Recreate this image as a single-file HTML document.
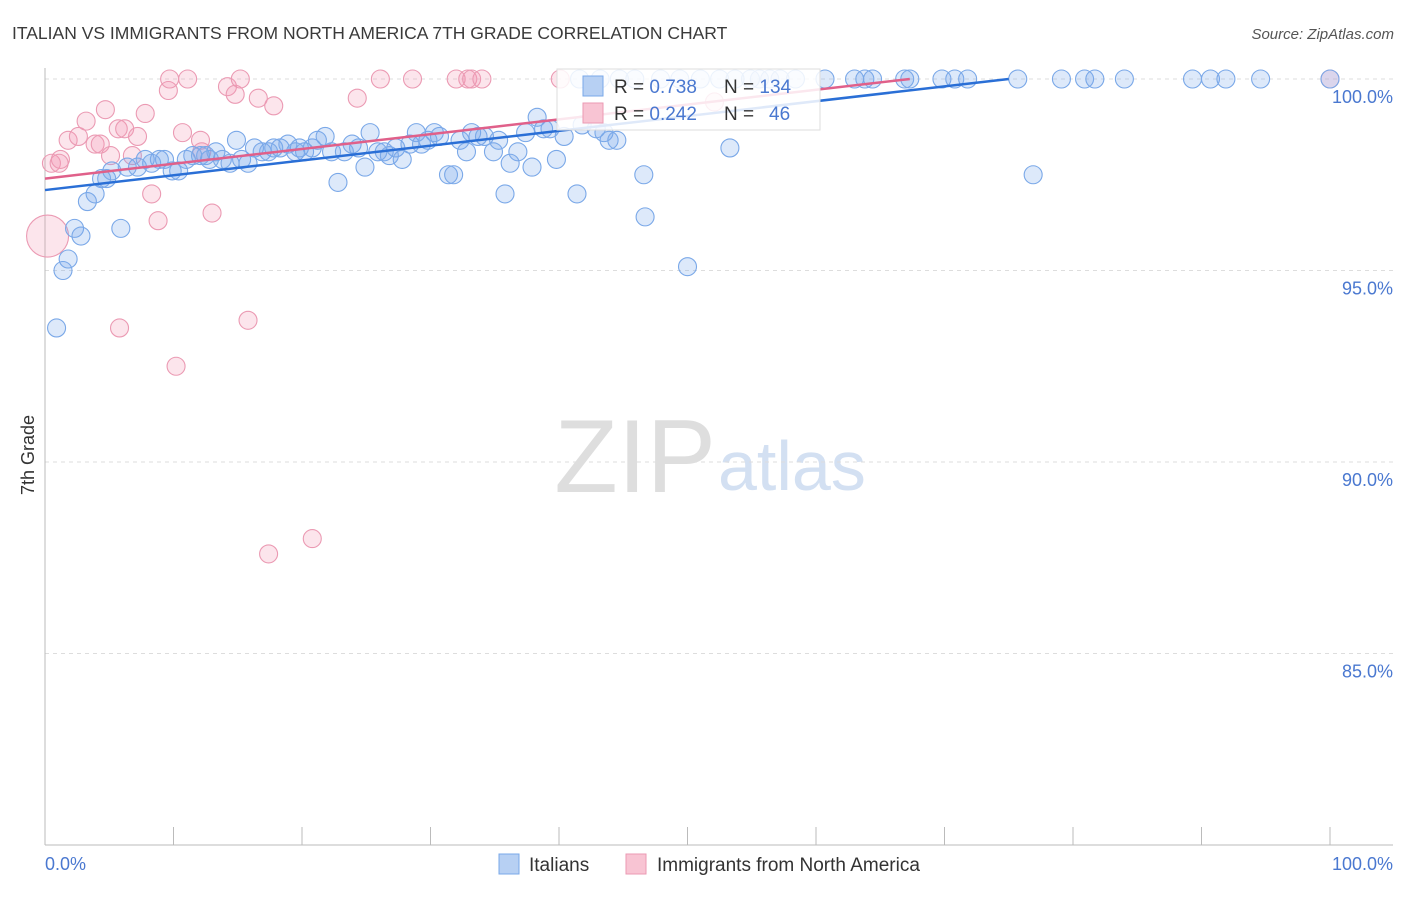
<!DOCTYPE html>
<html><head><meta charset="utf-8">
<style>
body{margin:0;background:#fff;font-family:"Liberation Sans",sans-serif;}
svg text{font-family:"Liberation Sans",sans-serif;}
</style></head>
<body>
<svg id="chart" width="1406" height="892" xmlns="http://www.w3.org/2000/svg">
<text x="12" y="39" font-size="17.5" fill="#3a3a3a">ITALIAN VS IMMIGRANTS FROM NORTH AMERICA 7TH GRADE CORRELATION CHART</text>
<text x="1394" y="39" font-size="15" fill="#555" text-anchor="end" font-style="italic">Source: ZipAtlas.com</text>
<text x="716" y="492" font-size="104" fill="#dedede" text-anchor="end" font-family="Liberation Serif">ZIP</text>
<text x="718" y="490" font-size="70" fill="#d3e0f2">atlas</text>
<g id="grid"></g>
<g id="pinkpts"></g>
<g id="bluepts"></g>
<g id="lines"></g>
<text transform="translate(34,455) rotate(-90)" font-size="18" fill="#333" text-anchor="middle">7th Grade</text>
<text x="45" y="870" font-size="18" fill="#4a78d0">0.0%</text>
<text x="1393" y="870" font-size="18" fill="#4a78d0" text-anchor="end">100.0%</text>
<g>
<rect x="557" y="69" width="263" height="61" fill="#fff" fill-opacity="0.85" stroke="#ddd"/>
<rect x="583" y="76" width="20" height="20" fill="#b7d0f3" stroke="#7aa8e8"/>
<rect x="583" y="103" width="20" height="20" fill="#f8c4d3" stroke="#eb9ab3"/>
<text x="614" y="93" font-size="19" fill="#333">R = <tspan fill="#4a78d0">0.738</tspan></text>
<text x="724" y="93" font-size="19" fill="#333">N = <tspan fill="#4a78d0">134</tspan></text>
<text x="614" y="120" font-size="19" fill="#333">R = <tspan fill="#4a78d0">0.242</tspan></text>
<text x="724" y="120" font-size="19" fill="#333">N = <tspan fill="#4a78d0" x="769">46</tspan></text>
</g>
<g>
<rect x="499" y="854" width="20" height="20" fill="#b7d0f3" stroke="#7aa8e8"/>
<text x="529" y="871" font-size="19" fill="#333">Italians</text>
<rect x="626" y="854" width="20" height="20" fill="#f8c4d3" stroke="#eb9ab3"/>
<text x="657" y="871" font-size="19" fill="#333">Immigrants from North America</text>
</g>
</svg>
<script>
const yTicks=[100,95,90,85];
const yTickLabels=["100.0%","95.0%","90.0%","85.0%"];
const xTicks=[0,10,20,30,40,50,60,70,80,90,100];
const blueX=[0.9,1.4,1.8,2.3,2.8,3.3,3.9,4.4,4.8,5.2,5.9,6.4,7.2,7.8,8.3,8.9,9.3,9.9,10.4,11.0,11.5,12.1,12.5,12.8,13.3,13.8,14.4,14.9,15.3,15.8,16.3,16.9,17.4,17.8,18.3,18.9,19.5,19.8,20.2,20.8,21.2,21.8,22.3,22.8,23.3,23.9,24.4,24.9,25.3,25.9,26.4,26.8,27.3,27.8,28.4,28.9,29.3,29.8,30.3,30.7,31.4,31.8,32.3,32.8,33.2,33.7,34.2,34.9,35.3,35.8,36.2,36.8,37.4,37.9,38.3,38.8,39.3,39.8,40.4,41.4,41.8,42.9,43.5,43.9,44.5,46.6,46.7,50.0,53.3,76.9,45.9,47.9,51.0,53.7,55.6,56.4,58.4,60.7,63.0,63.8,64.4,66.9,67.3,69.8,70.8,71.8,75.7,79.1,80.9,81.7,84.0,89.3,90.7,91.9,94.6,100,41.6,43.2,44.7,49.4,52.5,54.9,57.2];
const blueY=[93.5,95.0,95.3,96.1,95.9,96.8,97.0,97.4,97.4,97.6,96.1,97.7,97.7,97.9,97.8,97.9,97.9,97.6,97.6,97.9,98.0,98.0,98.0,97.9,98.1,97.9,97.8,98.4,97.9,97.8,98.2,98.1,98.1,98.2,98.2,98.3,98.1,98.2,98.1,98.2,98.4,98.5,98.1,97.3,98.1,98.3,98.2,97.7,98.6,98.1,98.1,98.0,98.2,97.9,98.3,98.6,98.3,98.4,98.6,98.5,97.5,97.5,98.4,98.1,98.6,98.5,98.5,98.1,98.4,97.0,97.8,98.1,98.6,97.7,99.0,98.7,98.7,97.9,98.5,97.0,98.8,98.7,98.6,98.4,98.4,97.5,96.4,95.1,98.2,97.5,100,100,100,100,100,100,100,100,100,100,100,100,100,100,100,100,100,100,100,100,100,100,100,100,100,100,100,100,100,100,100,100,100];
const pinkX=[0.5,1.2,1.8,2.6,3.2,3.9,4.3,4.7,5.1,5.7,5.8,6.2,6.8,7.2,7.8,8.3,8.8,9.6,9.7,10.2,10.7,11.1,12.1,12.2,13.0,14.2,14.8,15.2,15.8,16.6,17.4,17.8,20.8,24.3,26.1,28.6,32.0,32.9,33.2,34.0,40.1,52.1,100,1.1];
const pinkY=[97.8,97.9,98.4,98.5,98.9,98.3,98.3,99.2,98.0,98.7,93.5,98.7,98.0,98.5,99.1,97.0,96.3,99.7,100,92.5,98.6,100,98.4,98.1,96.5,99.8,99.6,100,93.7,99.5,87.6,99.3,88.0,99.5,100,100,100,100,100,100,100,99.4,100,97.8];
const bigPinkX=[0.2], bigPinkY=[95.9];
const blueTrendX=[0,75], blueTrendY=[97.1,100];
const pinkTrendX=[0,67.3], pinkTrendY=[97.4,100];

const NS="http://www.w3.org/2000/svg";
const xs=v=>45+v*12.85;
const ys=v=>79+(100-v)*38.3;
function mk(tag,attrs,parent){const e=document.createElementNS(NS,tag);for(const k in attrs)e.setAttribute(k,attrs[k]);parent.appendChild(e);return e;}
const grid=document.getElementById('grid');
yTicks.forEach((t,i)=>{
  const l=mk('line',{x1:45,x2:1393,y1:ys(t),y2:ys(t),stroke:'#ddd','stroke-dasharray':'4,4'},grid);
  
  
  const tx=mk('text',{x:1393,y:ys(t)+24,'font-size':18,fill:'#4a78d0','text-anchor':'end'},grid);
  tx.textContent=yTickLabels[i];
  
  
});
const ax=mk('line',{x1:45,x2:1393,y1:845,y2:845,stroke:'#bbb'},grid);


const ay=mk('line',{x1:45,x2:45,y1:68,y2:845,stroke:'#bbb'},grid);


xTicks.forEach(t=>{
  const l=mk('line',{x1:xs(t),x2:xs(t),y1:827,y2:845,stroke:'#bbb'},grid);
  
  
});
const pg=document.getElementById('pinkpts');
pinkX.forEach((x,i)=>{
  const c=mk('circle',{cx:xs(x),cy:ys(pinkY[i]),r:9,fill:'rgba(242,150,178,0.25)',stroke:'#eb9ab3','stroke-width':1.1},pg);
  
  
});
bigPinkX.forEach((x,i)=>{
  const c=mk('circle',{cx:xs(x),cy:ys(bigPinkY[i]),r:21,fill:'rgba(242,150,178,0.25)',stroke:'#eb9ab3','stroke-width':1.1},pg);
  
  
});
const bg=document.getElementById('bluepts');
blueX.forEach((x,i)=>{
  const c=mk('circle',{cx:xs(x),cy:ys(blueY[i]),r:9,fill:'rgba(120,168,235,0.25)',stroke:'#7aa8e8','stroke-width':1.1},bg);
  
  
});
const lg=document.getElementById('lines');
const bl=mk('line',{x1:xs(blueTrendX[0]),y1:ys(blueTrendY[0]),x2:xs(blueTrendX[1]),y2:ys(blueTrendY[1]),stroke:'#2a6fd6','stroke-width':2.5},lg);


const pl=mk('line',{x1:xs(pinkTrendX[0]),y1:ys(pinkTrendY[0]),x2:xs(pinkTrendX[1]),y2:ys(pinkTrendY[1]),stroke:'#e0608a','stroke-width':2.5},lg);


</script>
</body></html>
